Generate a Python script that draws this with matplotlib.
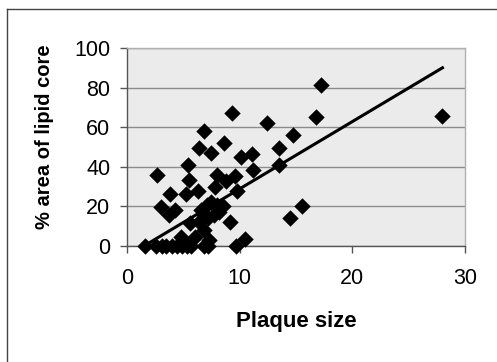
import numpy as np
import matplotlib
matplotlib.use("Agg")
import matplotlib.pyplot as plt
from matplotlib.lines import Line2D

plt.rcParams['font.family'] = ['Liberation Sans', 'DejaVu Sans']

# plaque size vs % lipid core
plaque_size = [17.2, 16.8, 28.0, 15.5, 14.5, 9.3, 12.4, 14.7, 13.5, 13.5,
               6.8, 6.4, 7.5, 8.6, 10.1, 11.1, 11.2, 5.4, 2.7, 5.5,
               6.3, 8.0, 7.8, 8.8, 9.6, 9.8, 3.8, 5.2, 3.0, 3.7,
               4.3, 6.6, 7.1, 7.5, 8.0, 8.5, 8.2, 7.7, 7.2, 6.8,
               5.6, 6.4, 6.8, 6.0, 7.3, 4.8, 9.1, 10.5, 9.7, 5.0,
               1.6, 2.6, 3.1, 3.5, 4.0, 4.4, 4.9, 5.3, 5.7, 6.8, 7.2]
lipid_core = [81.5, 65.0, 65.5, 20.0, 14.0, 67.3, 62.3, 56.0, 49.3, 41.0,
              58.2, 49.3, 47.0, 52.2, 45.1, 46.5, 38.4, 41.0, 36.0, 33.5,
              28.0, 36.0, 30.0, 33.0, 35.5, 28.0, 26.2, 26.2, 19.5, 15.7,
              18.2, 18.2, 20.7, 22.4, 20.7, 20.2, 17.3, 15.7, 14.0, 15.7,
              11.5, 12.3, 8.1, 4.4, 3.0, 4.6, 12.0, 3.7, 0.0, 2.5,
              0.0, 0.0, 0.0, 0.0, 0.0, 0.0, 0.0, 0.0, 0.0, 0.0, 0.0]

# linear trend line end points
trend_x = [1.5, 28.0]
trend_y = [0.0, 90.0]

x_ticks = [0, 10, 20, 30]
y_ticks = [0, 20, 40, 60, 80, 100]

fig = plt.figure(figsize=(4.97, 3.62), dpi=100)
ax = fig.add_axes([0.2555, 0.3204, 0.6801, 0.547])
ax.set_facecolor('#ebebeb')

ax.scatter(plaque_size, lipid_core, marker='D', s=70, color='black',
           linewidths=0, zorder=3, clip_on=False)
ax.plot(trend_x, trend_y, color='black', linewidth=2.2, zorder=4)

ax.set_xlim(0, 30)
ax.set_ylim(0, 100)
ax.set_xticks(x_ticks)
ax.set_yticks(y_ticks)
ax.yaxis.grid(True, color='#8c8c8c', linewidth=1.0)
ax.set_axisbelow(True)

for side in ['top', 'right']:
    ax.spines[side].set_color('#b0b0b0')
    ax.spines[side].set_linewidth(1.0)
for side in ['left', 'bottom']:
    ax.spines[side].set_color('#555555')
    ax.spines[side].set_linewidth(1.0)

ax.tick_params(axis='both', direction='out', length=5, width=1,
               color='#555555', labelsize=15.5)
ax.tick_params(axis='x', pad=11)
ax.tick_params(axis='y', pad=7)

ax.set_xlabel('Plaque size', fontsize=16, fontweight='bold', labelpad=16)
ax.set_ylabel('% area of lipid core', fontsize=14.5, fontweight='bold')
ax.yaxis.set_label_coords(-0.215, 0.55)

# outer frame of the figure
fig.add_artist(Line2D([7 / 497, 7 / 497], [0, 1 - 9 / 362], color='#444444', linewidth=1))
fig.add_artist(Line2D([7 / 497, 1], [1 - 9 / 362, 1 - 9 / 362], color='#444444', linewidth=1))

fig.savefig('out.png', dpi=100)
